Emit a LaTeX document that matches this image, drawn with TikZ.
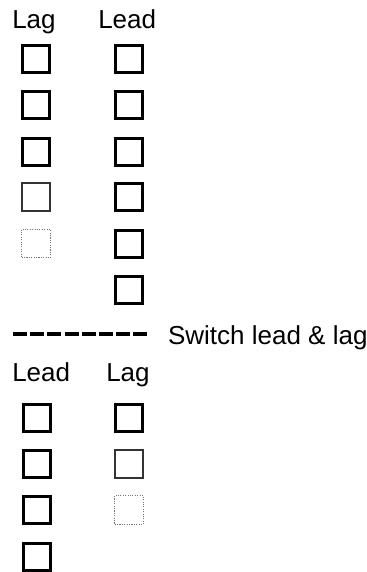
\documentclass[tikz,border=0pt]{standalone}
\usepackage{fontspec}
\setmainfont{Liberation Sans}
\begin{document}
\begin{tikzpicture}[x=0.75pt,y=-0.75pt,
  lbl/.style={anchor=base west,inner sep=0pt,font=\fontsize{19.5}{23}\selectfont},
  thickbox/.style={draw=black,line width=2.25pt,minimum size=20.25pt,inner sep=0pt},
  medbox/.style={draw=black!80,line width=1.5pt,minimum size=21pt,inner sep=0pt},
  dotbox/.style={draw=black!55,densely dotted,line width=0.8pt,minimum size=21.5pt,inner sep=0pt},
  sepline/.style={line width=2.3pt,dash pattern=on 10.5pt off 2.4pt}]
\useasboundingbox (0,0) rectangle (367,572);
% upper labels
\node[lbl] (lagA) at (12,28) {Lag};
\node[lbl] (leadA) at (98,28) {Lead};
% upper left column
\node[thickbox] (a1) at (36,59) {};
\node[thickbox] (a2) at (36,105) {};
\node[thickbox] (a3) at (36,151.5) {};
\node[medbox] (a4) at (36,197) {};
\node[dotbox] (a5) at (36,243.5) {};
% upper right column
\node[thickbox] (b1) at (128.5,59) {};
\node[thickbox] (b2) at (128.5,105) {};
\node[thickbox] (b3) at (128.5,151.5) {};
\node[thickbox] (b4) at (128.5,197) {};
\node[thickbox] (b5) at (128.5,243.5) {};
\node[thickbox] (b6) at (128.5,289.5) {};
% separator
\coordinate (s0) at (13,334);
\coordinate (s1) at (148,334);
\draw[sepline] (s0) -- (s1);
\node[lbl] (sw) at (167.8,344) {Switch lead \& lag};
% lower labels
\node[lbl] (leadB) at (12,381) {Lead};
\node[lbl] (lagB) at (106,381) {Lag};
% lower left column
\node[thickbox] (c1) at (36.5,418) {};
\node[thickbox] (c2) at (36.5,464) {};
\node[thickbox] (c3) at (36.5,510) {};
\node[thickbox] (c4) at (36.5,556.5) {};
% lower right column
\node[thickbox] (d1) at (129,418) {};
\node[medbox] (d2) at (129,464) {};
\node[dotbox] (d3) at (129,510) {};
\end{tikzpicture}
\end{document}
